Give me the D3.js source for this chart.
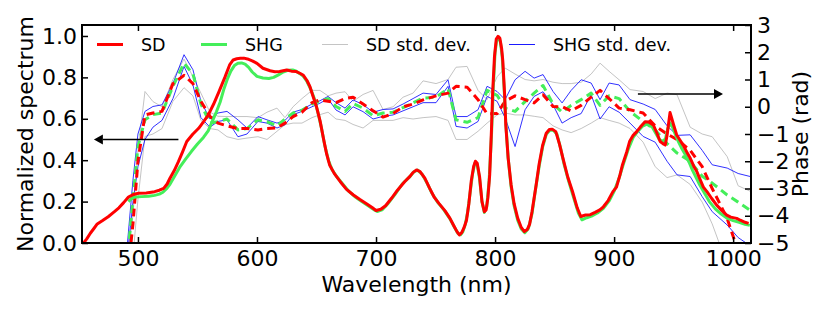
<!DOCTYPE html>
<html>
<head>
<meta charset="utf-8">
<script src="https://cdn.jsdelivr.net/npm/d3@7"></script>
<style>
	body { margin: 0; background: #fff; }
	svg { display: block; font-family: 'DejaVu Sans', sans-serif; }
</style>
</head>
<body>
<svg id="chart" width="831" height="312"></svg>
<script>
'use strict';

// SD spectrum (red, solid)
var sdWl = [453, 457, 460, 463, 465.5, 470, 475, 480, 484, 488, 492, 496, 500.5, 507, 514, 518, 521.6, 524.5, 527, 530.5,
	534, 537.5, 541, 546, 551, 555, 559, 563.5, 568, 573, 577, 580, 583, 586, 589, 592, 596, 600, 605, 611,
	615, 619, 625, 629, 633, 636, 639, 642, 644.5, 647, 650, 653, 656, 658.5, 661, 665, 670, 675, 681, 686.5,
	692, 697, 700, 704, 708, 713, 718, 724, 728.5, 731, 734, 737, 741, 745, 749, 753, 758, 762, 765, 768,
	770, 772, 774, 776, 778, 780, 782, 783.5, 785, 787, 789, 791, 792.5, 794, 795.5, 797, 798, 799.5, 801, 802.5,
	804, 805.5, 806.5, 808, 809, 811, 813.5, 816, 819, 822, 824.6, 827, 829, 831, 834.5, 837, 840, 843, 845.6, 848,
	851, 854, 857, 861, 865, 869, 872, 876, 880, 884, 888, 891, 895, 899, 902, 905, 907, 910.6, 913, 916,
	919, 922, 926, 929, 933, 936, 938.7, 941, 943, 944.5, 945.6, 947, 948.5, 950, 952.6, 955, 958, 961, 964, 967,
	969.5, 972, 975, 978, 982, 986, 990, 994.6, 998, 1003, 1006, 1010, 1013];
var sdSpec = [-0.01, 0.02, 0.047, 0.07, 0.09, 0.107, 0.127, 0.15, 0.17, 0.195, 0.222, 0.234, 0.24, 0.242, 0.248, 0.255, 0.264, 0.285, 0.314, 0.35,
	0.393, 0.44, 0.49, 0.525, 0.554, 0.585, 0.618, 0.67, 0.73, 0.8, 0.86, 0.884, 0.89, 0.892, 0.893, 0.889, 0.88, 0.868, 0.844, 0.832,
	0.827, 0.828, 0.836, 0.83, 0.828, 0.82, 0.81, 0.785, 0.755, 0.71, 0.658, 0.59, 0.5, 0.43, 0.377, 0.335, 0.296, 0.26, 0.232, 0.21,
	0.19, 0.17, 0.157, 0.163, 0.18, 0.216, 0.255, 0.296, 0.322, 0.34, 0.353, 0.345, 0.313, 0.265, 0.22, 0.19, 0.155, 0.12, 0.087, 0.055,
	0.039, 0.05, 0.075, 0.11, 0.19, 0.3, 0.37, 0.395, 0.385, 0.32, 0.2, 0.151, 0.16, 0.22, 0.33, 0.55, 0.73, 0.9, 0.985, 0.998,
	0.99, 0.94, 0.88, 0.72, 0.57, 0.41, 0.28, 0.19, 0.12, 0.075, 0.055, 0.065, 0.09, 0.15, 0.28, 0.38, 0.473, 0.53, 0.548, 0.55,
	0.538, 0.48, 0.41, 0.32, 0.25, 0.17, 0.128, 0.135, 0.137, 0.148, 0.16, 0.175, 0.205, 0.248, 0.27, 0.33, 0.377, 0.44, 0.49, 0.52,
	0.538, 0.56, 0.586, 0.585, 0.57, 0.53, 0.49, 0.48, 0.473, 0.52, 0.57, 0.63, 0.6, 0.57, 0.522, 0.5, 0.473, 0.44, 0.409, 0.37,
	0.345, 0.31, 0.27, 0.248, 0.215, 0.184, 0.16, 0.135, 0.125, 0.119, 0.11, 0.1, 0.095];

// SHG spectrum (green, solid)
var shgWl = [492, 495, 498, 503, 509, 514, 518, 521, 524, 527, 531, 535, 540, 545, 550, 555, 559, 563, 566, 569,
	572, 575, 578, 581, 584, 587, 590, 593, 596, 600, 605, 610, 614, 618, 622, 626, 630, 633, 636, 639,
	642, 645, 648, 651, 654, 657, 660, 663, 667, 672, 677, 682, 688, 694, 699, 701, 705, 710, 716, 722,
	728, 732, 735, 739, 743, 747, 752, 757, 762, 766, 769, 771, 773, 775, 777, 779, 781, 783, 785, 787,
	789, 791, 793, 795, 797, 798.5, 800, 801.5, 803, 804.5, 806, 807.5, 809, 811, 813.5, 816, 819, 822, 825, 828,
	831, 834, 837, 840, 843, 846, 849, 852, 855, 858, 862, 866, 870, 873, 877, 881, 886, 891, 896, 900,
	904, 908, 912, 916, 920, 924, 928, 932, 935, 938, 941, 943, 945, 947, 949, 951, 954, 957, 960, 963,
	966, 969, 972, 976, 980, 985, 990, 995, 1000, 1005, 1010, 1014];
var shgSpec = [0.2, 0.218, 0.222, 0.224, 0.226, 0.23, 0.236, 0.245, 0.262, 0.285, 0.325, 0.365, 0.405, 0.443, 0.478, 0.51, 0.542, 0.595, 0.635, 0.68,
	0.74, 0.79, 0.83, 0.857, 0.868, 0.87, 0.864, 0.848, 0.826, 0.805, 0.797, 0.795, 0.8, 0.812, 0.826, 0.834, 0.836, 0.83, 0.818, 0.805,
	0.78, 0.745, 0.7, 0.635, 0.56, 0.47, 0.4, 0.355, 0.32, 0.285, 0.25, 0.225, 0.2, 0.178, 0.158, 0.152, 0.16, 0.19, 0.235, 0.285,
	0.318, 0.345, 0.352, 0.33, 0.288, 0.24, 0.195, 0.16, 0.118, 0.075, 0.045, 0.04, 0.055, 0.09, 0.15, 0.24, 0.33, 0.385, 0.38, 0.31,
	0.2, 0.148, 0.175, 0.3, 0.52, 0.75, 0.92, 0.985, 0.995, 0.97, 0.9, 0.76, 0.58, 0.41, 0.27, 0.18, 0.11, 0.068, 0.05, 0.07,
	0.14, 0.26, 0.37, 0.465, 0.525, 0.545, 0.545, 0.525, 0.46, 0.38, 0.295, 0.22, 0.145, 0.112, 0.122, 0.13, 0.145, 0.168, 0.205, 0.25,
	0.31, 0.385, 0.455, 0.51, 0.54, 0.565, 0.575, 0.56, 0.53, 0.5, 0.49, 0.5, 0.55, 0.58, 0.56, 0.53, 0.49, 0.455, 0.425, 0.39,
	0.35, 0.315, 0.28, 0.24, 0.2, 0.165, 0.14, 0.12, 0.108, 0.1, 0.09, 0.085];

// retrieved phases (rad) and their std. dev. bounds, on one wavelength grid
var phaseWl = [490.8, 495.8, 500, 505.9, 512.6, 520.2, 529.4, 538.7, 546.2, 552.9, 560.5, 567.2, 574.8, 584, 591.6, 600.8, 608.4, 616.8, 623.5, 630.3,
	637.8, 646.2, 652.9, 659.7, 666.4, 674, 680.7, 689.1, 697.5, 705.9, 714.3, 722.7, 731.1, 739.5, 750.4, 760.5, 767.2, 776.5, 785.7, 793.3,
	801.7, 808.4, 816.8, 825.2, 832.8, 840.3, 848.7, 856.3, 863.9, 872.3, 880.7, 888.2, 895.8, 904.2, 913.4, 924.4, 934.5, 944.5, 952.9, 963.9,
	974, 982.4, 995, 1004.2, 1014.3];
var shgPhase = [-5.8, -3.4, -1.46, -0.48, -0.29, -0.23, 0.75, 1.6, 1.2, 0.1, -0.6, -0.55, -0.45, -0.85, -0.8, -0.48, -0.55, -0.7, -0.45, -0.23,
	-0.13, 0.1, 0.2, 0.3, 0.01, -0.17, 0.12, -0.05, -0.33, -0.23, -0.2, -0.03, 0.14, 0.32, 0.35, 0.66, -0.48, -0.57, -0.4, 0.6,
	0.42, -0.05, -0.17, 0.19, 0.5, 0.78, 0.1, -0.2, 0.05, 0.26, 0.5, 0.05, 0.4, 0.3, -0.17, -0.54, -0.85, -1.35, -1.7, -2,
	-2.55, -2.8, -3.24, -3.5, -3.8];
var shgPhaseHi = [-5.2, -2.7, -1, -0.17, 0.01, 0.07, 0.85, 1.91, 1.36, 0.2, -0.45, -0.23, -0.17, -0.48, -0.78, -0.36, -0.48, -0.6, -0.5, -0.2,
	-0.1, 0.1, 0.22, 0.38, 0.15, -0.05, 0.25, 0.08, -0.2, -0.1, -0.08, 0.1, 0.3, 0.5, 0.45, 0.99, -0.36, -0.36, -0.11, 0.75,
	0.56, 0.26, 0.99, 1.3, 1.05, 1.18, 0.56, 0.14, 0.6, 0.99, 0.87, 0.26, 0.87, 0.8, 0.26, 0.1, -0.1, -0.7, -1.05, -1.03,
	-1.6, -2.13, -2.25, -2.45, -2.56];
var shgPhaseLo = [-5.6, -3.5, -2.2, -1.2, -0.75, -0.5, 0.3, 1.48, 0.8, -0.4, -0.75, -0.54, -0.48, -1.1, -1, -0.54, -0.6, -0.78, -0.66, -0.29,
	-0.17, 0, 0.13, 0.3, -0.12, -0.3, 0, -0.18, -0.45, -0.35, -0.3, -0.15, 0, 0.15, 0.15, 0.75, -0.72, -0.78, -0.54, 0.38,
	0.2, -0.4, -1.46, -0.11, 0.38, 0.55, 0.07, -0.6, -0.4, -0.25, 0.44, -0.45, 0, -0.2, -0.6, -1.09, -1.3, -2, -2.5, -2.56,
	-3.3, -3.85, -4.34, -4.8, -5.1];
var sdPhase = [-6.4, -4.3, -2, -0.3, -0.23, -0.17, 0.85, 1.15, 0.85, 0.2, -0.35, -0.6, -0.7, -0.8, -0.8, -0.85, -0.8, -0.78, -0.6, -0.36,
	-0.2, 0.15, 0.25, 0.2, 0.15, 0.3, 0.35, 0.1, -0.15, -0.38, -0.25, 0, 0.1, 0.25, 0.4, 0.5, 0.75, 0.72, 0.26, -0.26,
	-0.25, 0.2, 0.4, 0.26, 0.14, 0.44, 0.01, 0, -0.15, 0.05, 0.35, 0.6, 0.3, -0.05, -0.11, -0.23, -0.7, -1, -1.2, -1.6,
	-2.2, -3, -4.1, -5.3, -6];
var sdPhaseHi = [-5.6, -4, -1.6, 0.56, 0.19, 0, 1, 1.75, 1.1, 0.5, -0.2, -0.35, -0.36, -0.36, -0.36, -0.4, -0.2, -0.05, -0.4, 0,
	0.3, 0.6, 0.6, 0.4, 0.5, 0.55, 0.2, 0.45, 0.6, -0.1, 0, 0.35, 0.5, 0.95, 0.85, 1, 1.45, 1.48, 0.6, 0.26,
	1.1, 1.42, 1.2, 1, 0.95, 1, 0.9, 0.85, 0.85, 0.9, 1.2, 1.6, 1.3, 0.99, 0.63, 0.56, 0.3, 0.5, 0.44, -0.75,
	-1, -1.1, -1.83, -2.9, -3.1];
var sdPhaseLo = [-7, -5.5, -3.4, -1.09, -1, -0.8, 0.2, 0.7, 0.4, -0.5, -0.8, -0.85, -1.1, -1.2, -1.15, -1.1, -1.2, -0.9, -0.66, -0.6,
	-0.6, -0.4, -0.29, -0.2, -0.45, -0.5, -0.65, -0.78, -0.5, -0.5, -0.5, -0.4, -0.45, -0.4, -0.36, -0.5, -1.2, -1.2, -0.9, -0.6,
	-0.3, -0.23, -0.3, -0.3, -0.35, -0.4, -0.7, -0.85, -0.95, -0.8, -0.6, -0.4, -0.5, -0.6, -0.8, -1.3, -2.2, -2.6, -2.5, -2.85,
	-3.5, -4.3, -5.8, -6.5, -7];

var xTicks = [500, 600, 700, 800, 900, 1000];
var specTicks = [0, 0.2, 0.4, 0.6, 0.8, 1.0];
var phaseTicks = [-5, -4, -3, -2, -1, 0, 1, 2, 3];
var legendLabels = ['SD', 'SHG', 'SD std. dev.', 'SHG std. dev.'];

// arrows pointing to the axis each group of curves belongs to: [from, to] in data units
var specArrow = [[534, 0.5], [463, 0.5]];
var phaseArrow = [[920, 0.47], [991.5, 0.47]];

var RED = '#ff0000', GREEN = '#44ee5a', GRAY = '#c4c4c4', BLUE = '#1a1aff';

var my = {};
my.left = 82;
my.right = 751;
my.top = 25;
my.bottom = 243;

var svg = d3.select('#chart');

var x = d3.scaleLinear().domain([453, 1015]).range([my.left, my.right]);
var ySpec = d3.scaleLinear().domain([0, 1.053]).range([my.bottom, my.top]);
var yPhase = d3.scaleLinear().domain([-5, 3]).range([my.bottom, my.top]);

svg.append('clipPath').attr('id', 'plot-clip')
	.append('rect')
	.attr('x', my.left).attr('y', my.top)
	.attr('width', my.right - my.left).attr('height', my.bottom - my.top);

var plot = svg.append('g').attr('clip-path', 'url(#plot-clip)');

my.series = function(wl, vals, yScale) {
	return d3.line()
		.x(function(d, i) { return x(wl[i]); })
		.y(function(d) { return yScale(d); })(vals);
};

my.draw = function(wl, vals, yScale, color, width, dash) {
	var p = plot.append('path')
		.attr('d', my.series(wl, vals, yScale))
		.attr('fill', 'none')
		.attr('stroke', color)
		.attr('stroke-width', width)
		.attr('stroke-linejoin', 'round');
	if (dash) {
		p.attr('stroke-dasharray', dash);
	}
	return p;
};

// phase curves (right axis)
my.draw(phaseWl, sdPhaseHi, yPhase, GRAY, 1);
my.draw(phaseWl, sdPhaseLo, yPhase, GRAY, 1);
my.draw(phaseWl, shgPhaseHi, yPhase, BLUE, 0.9);
my.draw(phaseWl, shgPhaseLo, yPhase, BLUE, 0.9);
my.draw(phaseWl, shgPhase, yPhase, GREEN, 3, '8,5');
my.draw(phaseWl, sdPhase, yPhase, RED, 3, '8,5');

// spectra (left axis)
my.draw(shgWl, shgSpec, ySpec, GREEN, 3);
my.draw(sdWl, sdSpec, ySpec, RED, 3);

// arrows
my.arrow = function(a, yScale) {
	var x0 = x(a[0][0]), y0 = yScale(a[0][1]),
		x1 = x(a[1][0]), y1 = yScale(a[1][1]),
		dir = x1 > x0 ? 1 : -1,
		len = 9, half = 5;
	svg.append('line')
		.attr('x1', x0).attr('y1', y0)
		.attr('x2', x1 - dir * len).attr('y2', y1)
		.attr('stroke', '#000').attr('stroke-width', 1.5);
	svg.append('polygon')
		.attr('points', [
			[x1, y1],
			[x1 - dir * len, y1 - half],
			[x1 - dir * len, y1 + half]
		].map(function(p) { return p.join(','); }).join(' '))
		.attr('fill', '#000');
};
my.arrow(specArrow, ySpec);
my.arrow(phaseArrow, yPhase);

// axes
var fmt1 = d3.format('.1f');

var gBottom = svg.append('g')
	.attr('transform', 'translate(0,' + my.bottom + ')')
	.call(d3.axisBottom(x).tickValues(xTicks).tickSize(-6).tickPadding(7).tickFormat(d3.format('d')));
var gTop = svg.append('g')
	.attr('transform', 'translate(0,' + my.top + ')')
	.call(d3.axisTop(x).tickValues(xTicks).tickSize(-6).tickFormat(''));
var gLeft = svg.append('g')
	.attr('transform', 'translate(' + my.left + ',0)')
	.call(d3.axisLeft(ySpec).tickValues(specTicks).tickSize(-6).tickPadding(5).tickFormat(fmt1));
var gRight = svg.append('g')
	.attr('transform', 'translate(' + my.right + ',0)')
	.call(d3.axisRight(yPhase).tickValues(phaseTicks).tickSize(-6).tickPadding(6));

[gBottom, gTop, gLeft, gRight].forEach(function(g) {
	g.select('.domain').remove();
	g.selectAll('.tick line').attr('stroke', '#000').attr('stroke-width', 1.5);
	g.selectAll('.tick text')
		.attr('fill', '#000')
		.style('font-family', 'DejaVu Sans, sans-serif')
		.style('font-size', '22px');
});

svg.append('rect')
	.attr('x', my.left).attr('y', my.top)
	.attr('width', my.right - my.left).attr('height', my.bottom - my.top)
	.attr('fill', 'none').attr('stroke', '#000').attr('stroke-width', 2);

// axis labels
svg.append('text')
	.attr('x', (my.left + my.right) / 2).attr('y', 292)
	.attr('text-anchor', 'middle')
	.style('font-size', '22px')
	.text('Wavelength (nm)');

svg.append('text')
	.attr('transform', 'translate(33,' + (my.top + my.bottom) / 2 + ') rotate(-90)')
	.attr('text-anchor', 'middle')
	.style('font-size', '22px')
	.text('Normalized spectrum');

svg.append('text')
	.attr('transform', 'translate(808,' + (my.top + my.bottom) / 2 + ') rotate(-90)')
	.attr('text-anchor', 'middle')
	.style('font-size', '22px')
	.text('Phase (rad)');

// legend
var legendStyle = [
	{color: RED, width: 3, x: 97},
	{color: GREEN, width: 3, x: 201},
	{color: GRAY, width: 1, x: 322},
	{color: BLUE, width: 1, x: 509}
];
var legend = svg.append('g').attr('class', 'legend');
legendLabels.forEach(function(label, i) {
	var s = legendStyle[i];
	legend.append('line')
		.attr('x1', s.x).attr('x2', s.x + 26)
		.attr('y1', 44.5).attr('y2', 44.5)
		.attr('stroke', s.color).attr('stroke-width', s.width);
	legend.append('text')
		.attr('x', s.x + 44).attr('y', 50.5)
		.style('font-size', '17.5px')
		.text(label);
});
</script>
</body>
</html>
